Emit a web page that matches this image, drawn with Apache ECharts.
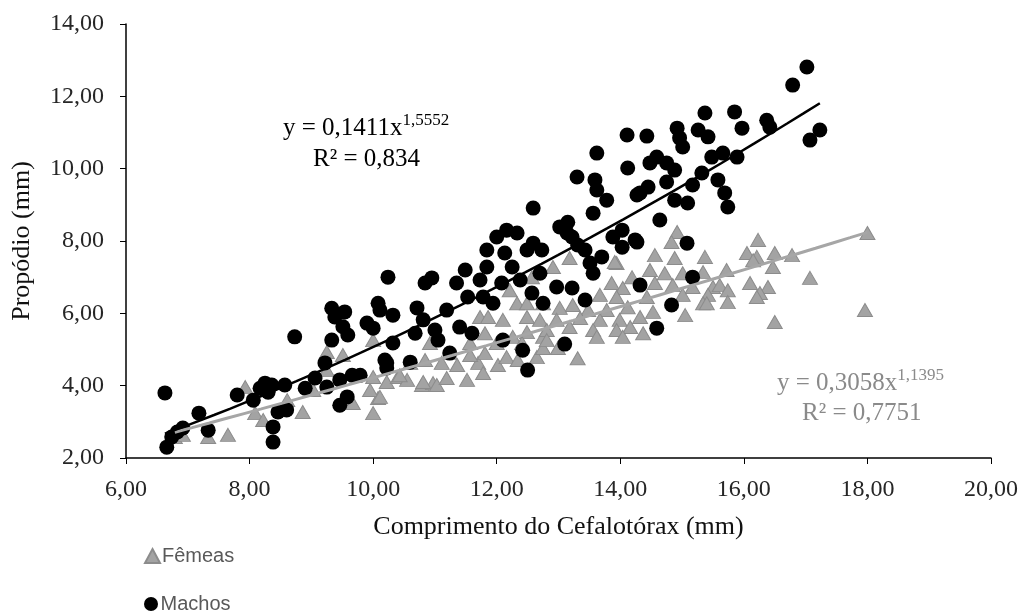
<!DOCTYPE html>
<html>
<head>
<meta charset="utf-8">
<script src="https://cdn.jsdelivr.net/npm/echarts@6/dist/echarts.min.js"></script>
<style>
  html, body { margin: 0; padding: 0; background: #fff; }
  #chart { width: 1023px; height: 615px; }
</style>
</head>
<body>
<div id="chart"></div>
<script>
// eixos
var xTicks = [6, 8, 10, 12, 14, 16, 18, 20];
var yTicks = [2, 4, 6, 8, 10, 12, 14];

// Machos: [comprimento do cefalotórax, propódio]
var machos = [
  [6.63, 3.80], [6.66, 2.30], [6.74, 2.58], [6.83, 2.72], [6.92, 2.83], [7.18, 3.24],
  [7.33, 2.77], [7.80, 3.74], [8.06, 3.60], [8.17, 3.93], [8.25, 4.07], [8.30, 3.82],
  [8.36, 4.02], [8.38, 2.86], [8.38, 2.44], [8.46, 3.27], [8.60, 3.33], [8.57, 4.02],
  [8.73, 5.35], [8.90, 3.93], [9.06, 4.21], [9.22, 4.63], [9.33, 5.26], [9.33, 6.14],
  [9.38, 5.90], [9.54, 6.04], [9.51, 5.63], [9.59, 5.40], [9.25, 3.96], [9.46, 4.16],
  [9.58, 3.69], [9.46, 3.46], [9.66, 4.29], [9.79, 4.29], [9.90, 5.73], [10.00, 5.59],
  [10.08, 6.28], [10.11, 6.09], [10.24, 7.00], [10.22, 4.63], [10.22, 4.49], [10.32, 5.95],
  [10.32, 5.18], [10.19, 4.71], [10.60, 4.65], [10.68, 5.45], [10.71, 6.15], [10.84, 6.84],
  [10.95, 6.98], [10.81, 5.82], [11.00, 5.54], [11.05, 5.26], [11.19, 6.09], [11.24, 4.90],
  [11.35, 6.84], [11.40, 5.62], [11.49, 7.20], [11.53, 6.45], [11.60, 5.45], [11.73, 6.92],
  [11.84, 7.28], [11.78, 6.45], [11.84, 7.75], [11.94, 6.28], [12.00, 8.11], [12.08, 6.84],
  [12.16, 8.30], [12.13, 7.67], [12.25, 7.28], [12.33, 8.22], [12.38, 6.92], [12.49, 7.75],
  [12.59, 7.94], [12.59, 8.91], [12.57, 6.56], [12.73, 7.75], [12.70, 7.11], [12.75, 6.28],
  [12.42, 4.98], [12.50, 4.43], [12.97, 6.73], [13.02, 8.39], [13.10, 5.15], [13.14, 8.22],
  [13.22, 6.70], [13.22, 8.11], [13.30, 9.77], [13.31, 7.89], [13.43, 6.37], [13.43, 7.75],
  [13.51, 7.39], [13.56, 8.77], [13.56, 7.11], [13.59, 9.69], [13.62, 9.41], [13.70, 7.56],
  [13.78, 9.13], [13.88, 8.11], [14.03, 8.30], [14.03, 7.83], [14.24, 8.03], [14.27, 9.27],
  [14.32, 6.78], [13.62, 10.43], [13.15, 8.52], [14.27, 7.97], [14.64, 8.58], [14.11, 10.93],
  [14.43, 10.90], [14.12, 10.02], [14.32, 9.33], [14.45, 9.49], [14.48, 10.16], [14.59, 10.32],
  [14.75, 10.16], [14.88, 9.96], [14.75, 9.63], [14.88, 9.13], [14.92, 11.12], [14.96, 10.85],
  [15.01, 10.60], [15.09, 9.05], [15.17, 9.55], [15.26, 11.07], [15.32, 9.88], [15.37, 11.54],
  [15.42, 10.88], [15.48, 10.32], [15.58, 9.69], [15.66, 10.43], [15.69, 9.33], [15.74, 8.94],
  [15.85, 11.57], [15.89, 10.32], [15.97, 11.12], [16.37, 11.34], [16.42, 11.15], [16.79, 12.31],
  [17.02, 12.81], [17.07, 10.79], [17.23, 11.07], [15.08, 7.94], [15.17, 7.00], [14.83, 6.23],
  [14.59, 5.59], [12.10, 5.26]
];

// Fêmeas
var femeas = [
  [6.79, 2.58], [6.92, 2.64], [7.33, 2.58], [7.65, 2.64], [7.93, 3.96], [8.09, 3.24],
  [8.22, 3.05], [8.61, 3.60], [8.86, 3.27], [9.03, 3.88], [9.25, 4.93], [9.51, 4.85],
  [9.25, 4.43], [9.67, 3.52], [10.00, 3.24], [10.08, 3.66], [9.95, 3.88], [10.00, 4.24],
  [10.22, 4.10], [10.00, 5.26], [10.40, 4.24], [10.55, 4.16], [10.79, 4.02], [10.97, 4.07],
  [10.11, 3.69], [10.43, 4.29], [10.60, 4.63], [10.84, 4.71], [11.11, 4.63], [11.36, 4.57],
  [11.70, 4.63], [12.02, 4.57], [10.81, 4.10], [11.03, 4.02], [11.19, 4.21], [11.52, 4.16],
  [11.78, 4.35], [10.92, 5.18], [11.24, 4.90], [11.57, 4.85], [11.81, 4.90], [12.16, 4.79],
  [12.34, 4.71], [12.65, 4.79], [11.57, 5.18], [12.00, 5.18], [12.26, 5.35], [12.49, 5.48],
  [12.75, 5.35], [12.75, 5.04], [12.41, 5.18], [11.81, 5.45], [11.73, 5.90], [11.86, 5.90],
  [12.10, 5.82], [12.49, 5.90], [12.70, 5.82], [12.21, 6.64], [12.33, 6.28], [12.49, 6.28],
  [12.57, 7.00], [12.91, 7.28], [13.18, 7.53], [13.94, 7.39], [14.19, 7.00], [13.86, 6.84],
  [14.04, 6.70], [14.56, 6.84], [14.85, 6.78], [15.17, 6.73], [15.50, 6.73], [15.42, 6.51],
  [15.34, 6.28], [13.94, 6.45], [13.67, 6.51], [14.43, 6.45], [15.01, 6.51], [13.23, 6.23],
  [13.02, 6.15], [12.75, 6.28], [13.48, 6.09], [13.78, 6.09], [14.12, 6.17], [14.53, 6.04],
  [15.05, 5.95], [14.32, 5.90], [13.99, 5.82], [13.67, 5.82], [13.35, 5.87], [12.97, 5.82],
  [12.81, 5.54], [13.18, 5.62], [13.56, 5.54], [13.94, 5.54], [14.16, 5.62], [14.37, 5.45],
  [14.04, 5.35], [13.62, 5.35], [12.81, 5.26], [12.99, 5.04], [13.31, 4.76], [14.92, 8.25],
  [14.83, 7.97], [13.91, 7.42], [14.56, 7.61], [14.88, 7.53], [15.37, 7.56], [14.48, 7.20],
  [14.72, 7.11], [15.01, 7.11], [15.34, 7.14], [18.00, 8.22], [16.23, 8.03], [16.05, 7.67],
  [16.21, 7.56], [16.15, 7.47], [16.50, 7.67], [16.78, 7.61], [16.47, 7.28], [15.72, 7.20],
  [15.61, 6.78], [15.74, 6.64], [16.10, 6.84], [16.39, 6.73], [16.26, 6.56], [16.21, 6.45],
  [17.07, 6.98], [15.40, 6.28], [15.74, 6.31], [17.96, 6.09], [16.50, 5.76]
];

// linhas de tendência (potência) mostradas no gráfico
var trendMachos = { a: 0.1411, b: 1.5552 };
var trendFemeas = { a: 0.3058, b: 1.1395 };

function powerLine(t, data) {
  var xs = data.map(function(d) { return d[0]; });
  var x0 = Math.min.apply(null, xs), x1 = Math.max.apply(null, xs);
  var pts = [];
  for (var i = 0; i <= 40; i++) {
    var x = x0 + (x1 - x0) * i / 40;
    pts.push([x, t.a * Math.pow(x, t.b)]);
  }
  return pts;
}

function fmt(v) { return v.toFixed(2).replace('.', ','); }

var serif = '"Liberation Serif", "Times New Roman", serif';
var sans = '"Liberation Sans", "Open Sans", sans-serif';

var chart = echarts.init(document.getElementById('chart'), null, { renderer: 'canvas' });

function eqText(x, y, main, sup, color) {
  return {
    type: 'text', x: x, y: y,
    style: {
      text: '{n|' + main + '}{s|' + sup + '}',
      verticalAlign: 'middle',
      rich: {
        n: { fontFamily: serif, fontSize: 25, fill: color },
        s: { fontFamily: serif, fontSize: 17, fill: color, verticalAlign: 'top', padding: [0, 0, 14, 0] }
      }
    }
  };
}

function legendItem(name, top) {
  return {
    orient: 'vertical',
    left: 144,
    top: top,
    padding: 0,
    itemWidth: 15,
    itemHeight: 14,
    itemGap: 0,
    data: [name],
    textStyle: { fontFamily: sans, fontSize: 20, color: '#595959', padding: [0, 0, 0, -3] }
  };
}

chart.setOption({
  backgroundColor: '#fff',
  animation: false,
  grid: { left: 126, right: 32, top: 24, bottom: 157, containLabel: false, outerBoundsMode: 'none' },
  legend: [legendItem('Fêmeas', 546), legendItem('Machos', 594)],
  xAxis: {
    type: 'value',
    min: xTicks[0], max: xTicks[xTicks.length - 1], interval: 2,
    name: 'Comprimento do Cefalotórax (mm)',
    nameLocation: 'middle',
    nameGap: 56,
    nameMoveOverlap: false,
    nameTextStyle: { fontFamily: serif, fontSize: 26, color: '#111' },
    axisLine: { lineStyle: { color: '#000', width: 1.5 } },
    axisTick: { show: true, inside: false, length: 6, lineStyle: { color: '#000' } },
    axisLabel: { formatter: fmt, fontFamily: serif, fontSize: 24, color: '#262626', margin: 20 },
    splitLine: { show: false }
  },
  yAxis: {
    type: 'value',
    min: yTicks[0], max: yTicks[yTicks.length - 1], interval: 2,
    name: 'Propódio (mm)',
    nameLocation: 'middle',
    nameGap: 91,
    nameMoveOverlap: false,
    nameRotate: 90,
    nameTextStyle: { fontFamily: serif, fontSize: 26, color: '#111' },
    axisLine: { show: true, lineStyle: { color: '#000', width: 1.5 } },
    axisTick: { show: true, inside: false, length: 6, lineStyle: { color: '#000' } },
    axisLabel: { formatter: fmt, fontFamily: serif, fontSize: 24, color: '#262626', margin: 22 },
    splitLine: { show: false }
  },
  series: [
    {
      name: 'Fêmeas',
      type: 'scatter',
      symbol: 'triangle',
      symbolSize: [15, 13],
      itemStyle: { color: '#a3a3a3', borderColor: '#8c8c8c', borderWidth: 1, opacity: 1 },
      data: femeas,
      z: 2
    },
    {
      name: 'Machos',
      type: 'scatter',
      symbol: 'circle',
      symbolSize: 15,
      itemStyle: { color: '#000', opacity: 1 },
      data: machos,
      z: 3
    },
    {
      name: 'tendFemeas',
      type: 'line',
      showSymbol: false,
      lineStyle: { color: '#a6a6a6', width: 3 },
      data: powerLine(trendFemeas, femeas),
      z: 4
    },
    {
      name: 'tendMachos',
      type: 'line',
      showSymbol: false,
      lineStyle: { color: '#000', width: 2.5 },
      data: powerLine(trendMachos, machos),
      z: 5
    }
  ],
  graphic: [
    eqText(283, 128, 'y = 0,1411x', '1,5552', '#000'),
    {
      type: 'text', x: 313, y: 159,
      style: { text: 'R² = 0,834', font: '25px ' + serif, fill: '#000', verticalAlign: 'middle' }
    },
    eqText(777, 383, 'y = 0,3058x', '1,1395', '#8a8a8a'),
    {
      type: 'text', x: 802, y: 413,
      style: { text: 'R² = 0,7751', font: '25px ' + serif, fill: '#8a8a8a', verticalAlign: 'middle' }
    }
  ]
});
</script>
</body>
</html>
